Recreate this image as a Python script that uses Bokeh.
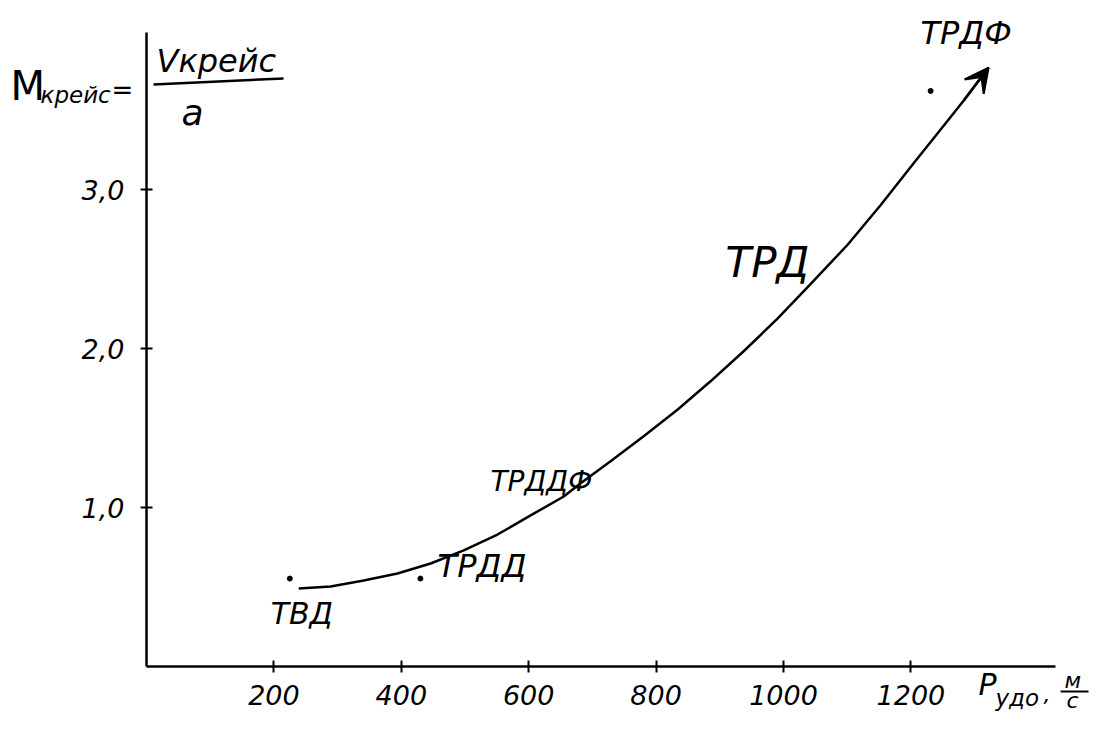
from bokeh.plotting import figure
from bokeh.models import Range1d, FixedTicker, Label, Arrow, VeeHead, LinearAxis, ColumnDataSource
from bokeh.core.properties import value
from bokeh.embed import file_html
from bokeh.resources import INLINE

# ---- data ----
x_ticks = [200, 400, 600, 800, 1000, 1200]
y_ticks = [1, 2, 3]
y_tick_labels = ["1,0", "2,0", "3,0"]

curve_P = [239, 289, 341, 394, 446, 498, 551, 603, 655, 681, 728, 780, 834,
           885, 937, 991, 1042, 1101, 1152, 1204, 1258, 1283, 1322]
curve_M = [0.491, 0.503, 0.541, 0.585, 0.648, 0.730, 0.830, 0.950, 1.069, 1.151,
           1.289, 1.447, 1.616, 1.792, 1.981, 2.189, 2.403, 2.654, 2.899, 3.164,
           3.434, 3.560, 3.767]

dot_P = [225, 430, 1231]
dot_M = [0.553, 0.553, 3.62]

engines = ["ТВД", "ТРДД", "ТРДДФ", "ТРД", "ТРДФ"]
engine_label_P = [195, 457, 540, 909, 1215]
engine_label_M = [0.333, 0.635, 1.164, 2.541, 3.987]

# styles (not data)
label_sizes = ["30px", "32px", "28px", "42px", "32px"]
FONT = "DejaVu Sans"

# pixel layout of the chart area
W, H = 1103, 713
X0_PX, PX_PER_P = 146.0, 0.637
Y0_PX, PX_PER_M = 666.0, 159.0


def to_data(px, py):
    return (px - X0_PX) / PX_PER_P, (Y0_PX - py) / PX_PER_M


x_lo, _ = to_data(0, 0)
x_hi, _ = to_data(W, 0)
_, y_hi = to_data(0, 0)
_, y_lo = to_data(0, H)
x_axis_end, y_axis_end = to_data(1055, 32)

p = figure(width=W, height=H, min_border=0,
           x_range=Range1d(x_lo, x_hi), y_range=Range1d(y_lo, y_hi),
           x_axis_location=None, y_axis_location=None,
           output_backend="svg", toolbar_location=None)
p.xgrid.visible = False
p.ygrid.visible = False
p.outline_line_color = None
p.background_fill_color = "white"
p.border_fill_color = "white"

xaxis = LinearAxis(fixed_location=0, bounds=(0, x_axis_end), ticker=FixedTicker(ticks=x_ticks))
yaxis = LinearAxis(fixed_location=0, bounds=(0, y_axis_end), ticker=FixedTicker(ticks=y_ticks))
yaxis.major_label_overrides = {t: l for t, l in zip(y_ticks, y_tick_labels)}
for ax in (xaxis, yaxis):
    ax.axis_line_width = 2.5
    ax.axis_line_color = "black"
    ax.major_tick_line_width = 2
    ax.major_tick_line_color = "black"
    ax.major_tick_in = 6
    ax.major_tick_out = 6
    ax.minor_tick_line_color = None
    ax.major_label_text_font = FONT
    ax.major_label_text_font_style = "italic"
    ax.major_label_text_font_size = "27px"
    ax.major_label_text_color = "black"
xaxis.major_label_standoff = 12
yaxis.major_label_standoff = 16
p.add_layout(xaxis, "below")
p.add_layout(yaxis, "left")

# curve with arrow
p.line(curve_P, curve_M, line_width=2.5, color="black")
p.add_layout(Arrow(end=VeeHead(size=24, fill_color="black", line_color="black", line_width=2),
                   x_start=curve_P[-2], y_start=curve_M[-2],
                   x_end=curve_P[-1], y_end=curve_M[-1],
                   line_width=2.5, line_color="black"))

# engine points and labels
p.scatter(dot_P, dot_M, size=5, color="black")
src = ColumnDataSource(dict(x=engine_label_P, y=engine_label_M, t=engines, s=label_sizes))
p.text(x="x", y="y", text="t", source=src,
       text_font=value(FONT), text_font_style="italic", text_font_size="s",
       text_align="left", text_baseline="middle", text_color="black")


def lab(px, py, t, size, style="italic"):
    x, y = to_data(px, py)
    p.add_layout(Label(x=x, y=y, text=t,
                       text_font=FONT, text_font_style=style, text_font_size=size,
                       text_color="black", text_align="left", text_baseline="middle"))


def rule(px0, py0, px1, py1, w):
    x0, y0 = to_data(px0, py0)
    x1, y1 = to_data(px1, py1)
    p.add_layout(Arrow(end=None, x_start=x0, y_start=y0, x_end=x1, y_end=y1,
                       line_width=w, line_color="black"))


# y title: M_крейс = V_крейс / a
lab(10, 85, "М", "40px", "normal")
lab(40, 94, "крейс", "23px")
lab(111, 89, "=", "26px", "normal")
lab(156, 60, "Vкрейс", "32px")
rule(153, 84, 283, 78, 2.5)
lab(181, 112, "a", "36px")

# x title: P_удо, м/с
lab(978, 684, "P", "30px")
lab(995, 697, "удо", "23px")
lab(1043, 693, ",", "22px")
lab(1064, 680, "м", "22px")
rule(1060, 691, 1088, 691, 2)
lab(1066, 700, "с", "22px")

open("out.html", "w").write(file_html(p, INLINE))
